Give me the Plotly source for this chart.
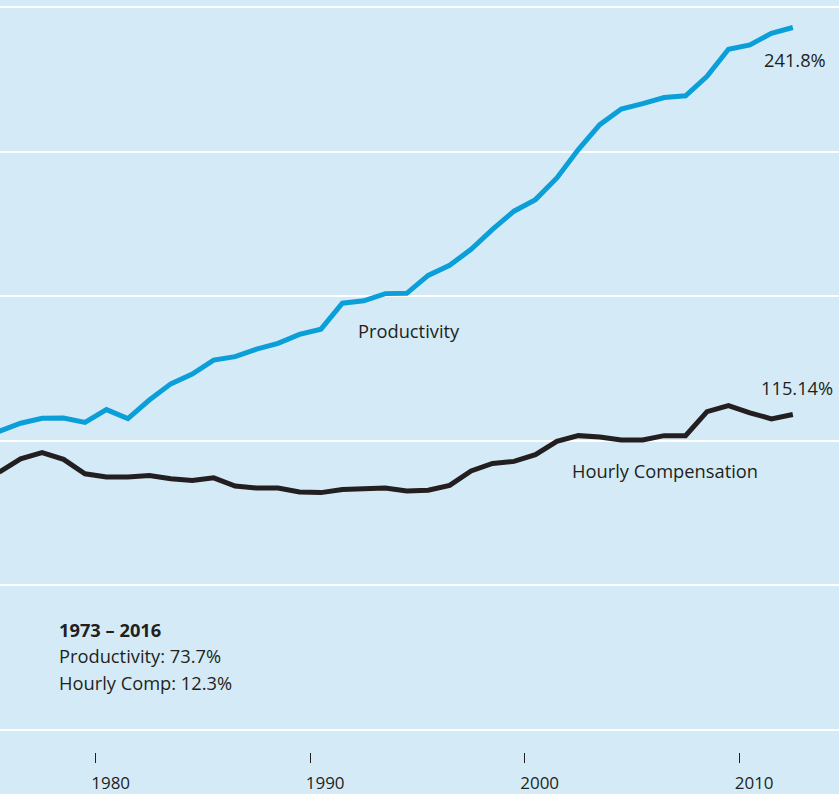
import plotly.graph_objects as go

years = list(range(1975, 2013))
productivity = [103.3, 106.1, 107.8, 107.9, 106.4, 110.8, 107.7, 114.1, 119.7, 123.1,
                127.9, 129.1, 131.7, 133.7, 136.8, 138.6, 147.6, 148.4, 150.9, 151.0,
                157.2, 160.7, 166.2, 173.1, 179.4, 183.4, 190.9, 200.7, 209.3, 214.7,
                216.6, 218.7, 219.3, 226.0, 235.4, 236.9, 240.9, 242.9]
compensation = [89.2, 93.8, 95.9, 93.6, 88.6, 87.5, 87.5, 88.0, 86.9, 86.3,
                87.2, 84.4, 83.7, 83.7, 82.3, 82.1, 83.2, 83.4, 83.7, 82.7,
                82.9, 84.6, 89.6, 92.2, 92.9, 95.2, 99.8, 101.8, 101.3, 100.3,
                100.3, 101.8, 101.8, 110.1, 112.2, 109.7, 107.6, 109.1]
tick_years = [1980, 1990, 2000, 2010]
tick_labels = ["1980", "1990", "2000", "2010"]
grid_values = [0, 50, 100, 150, 200, 250]
note_lines = ["<b>1973 – 2016</b>", "Productivity: 73.7%", "Hourly Comp: 12.3%"]

# annual values plotted at mid-year
xs = [y + 0.5 for y in years]

BG = "#d4ebf7"
BLUE = "#0a9fd9"
DARK = "#231f20"
FONT = "Open Sans"

fig = go.Figure()
fig.add_trace(go.Scatter(x=xs, y=productivity, mode="lines",
                         line=dict(color=BLUE, width=5), hoverinfo="skip"))
fig.add_trace(go.Scatter(x=xs, y=compensation, mode="lines",
                         line=dict(color=DARK, width=5), hoverinfo="skip"))

H = 765  # plot area height in px
def py(p):
    return 1 - p / H

ann = dict(showarrow=False, font=dict(family=FONT, size=18.3, color=DARK))
fig.add_annotation(xref="paper", yref="paper", x=762/839, y=py(60), text="241.8%",
                   xanchor="left", yanchor="middle", **ann)
fig.add_annotation(xref="paper", yref="paper", x=759/839, y=py(389), text="115.14%",
                   xanchor="left", yanchor="middle", **ann)
fig.add_annotation(xref="paper", yref="paper", x=356/839, y=py(331), text="Productivity",
                   xanchor="left", yanchor="middle", **ann)
fig.add_annotation(xref="paper", yref="paper", x=570/839, y=py(472), text="Hourly Compensation",
                   xanchor="left", yanchor="middle", **ann)
for i, line in enumerate(note_lines):
    fig.add_annotation(xref="paper", yref="paper", x=57/839, y=py(631 + i * 26.5),
                       text=line, xanchor="left", yanchor="middle", **ann)

px_per_unit = 725 / 250
y_top = 250 + 7 / px_per_unit
y_bot = 250 - 758 / px_per_unit
px_per_year = 21.45
x_left = 1980 - 95.7 / px_per_year
x_right = 1980 + (839 - 95.7) / px_per_year

fig.update_layout(
    width=839, height=794,
    margin=dict(l=0, r=0, t=0, b=29),
    paper_bgcolor=BG, plot_bgcolor=BG,
    showlegend=False,
    xaxis=dict(range=[x_left, x_right], showgrid=False, zeroline=False, showline=False,
               tickvals=tick_years, ticktext=tick_labels,
               ticks="inside", ticklen=10, tickwidth=1, tickcolor=DARK,
               ticklabelposition="outside right", ticklabelstandoff=8,
               ticklabelshift=-5,
               tickfont=dict(family=FONT, size=17, color=DARK)),
    yaxis=dict(range=[y_bot, y_top], tickvals=grid_values, showticklabels=False,
               showgrid=True, gridcolor="white", gridwidth=2, zeroline=False,
               showline=False),
)

fig.write_html("out.html", config={"displayModeBar": False},
               post_script="document.body.style.margin='0';document.body.style.overflow='hidden';")
